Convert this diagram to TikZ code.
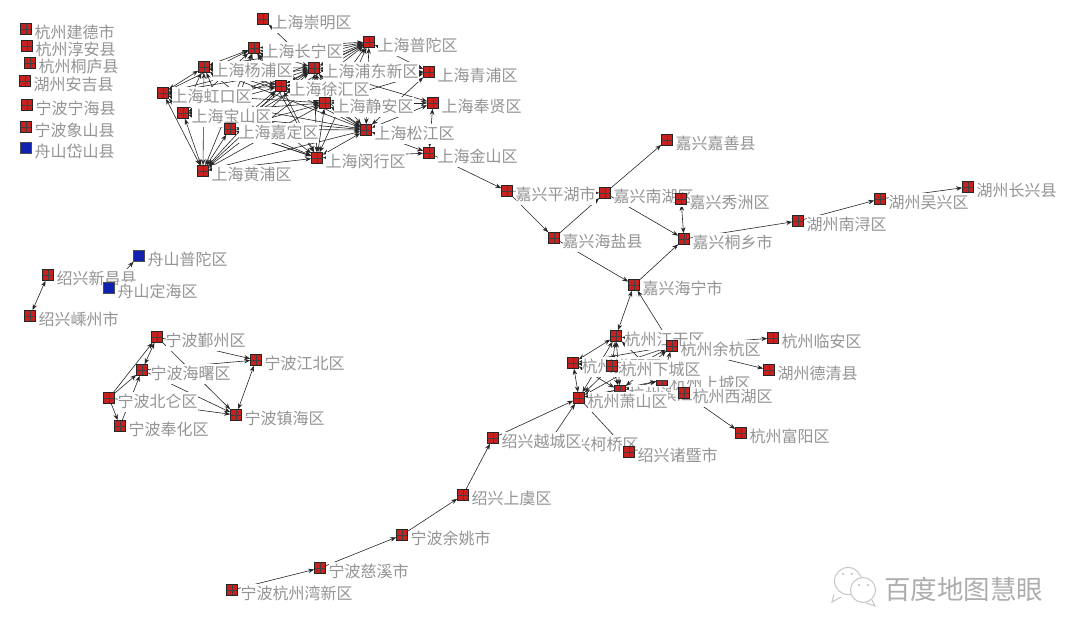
\documentclass[tikz,border=0pt]{standalone}
\usepackage{fontspec}
\setmainfont{Noto Sans CJK SC}
\usetikzlibrary{arrows.meta}
\pgfdeclarelayer{edgelayer}
\pgfsetlayers{edgelayer,main}
\definecolor{sqred}{HTML}{C8201E}
\definecolor{sqblue}{HTML}{1020B0}
\definecolor{labgray}{HTML}{949494}
\tikzset{
  redsq/.style={rectangle,draw=black!85,fill=sqred,line width=.6pt,minimum size=11pt,inner sep=0pt,
    path picture={\draw[black!75,line width=.7pt] (path picture bounding box.north)--(path picture bounding box.south)
      (path picture bounding box.west)--(path picture bounding box.east);}},
  bluesq/.style={rectangle,draw=black!70,fill=sqblue,line width=.5pt,minimum size=11pt,inner sep=0pt},
  lab/.style={anchor=west,fill=white,inner xsep=0pt,inner ysep=0pt,text=labgray,
    text height=15pt,text depth=5pt,font=\fontsize{16}{16}\selectfont},
  uni/.style={draw=black!85,line width=.6pt,-{Stealth[length=6pt,width=4.5pt]}},
  bi/.style={draw=black!85,line width=.6pt,{Stealth[length=6pt,width=4.5pt]}-{Stealth[length=6pt,width=4.5pt]}},
  wmtext/.style={text=black!32,font=\fontsize{26.5}{27}\selectfont,anchor=west,inner sep=0pt},
  bubble/.style={draw=black!22,fill=white,line width=1pt}
}
\newcommand{\nd}[5][redsq]{%
  \node[#1] (#2) at (#3,#4) {};
  \node[lab] (#2-l) at ([shift={(8.5,4)}]#2.center) {#5};
}
\begin{document}
\begin{tikzpicture}[x=1pt,y=-1pt]
\useasboundingbox (0,0) rectangle (1080,635);
% isolated
\nd{jiande}{26}{29}{杭州建德市}
\nd{chunan}{27}{46}{杭州淳安县}
\nd{tonglu}{30}{63}{杭州桐庐县}
\nd{anji}{25}{81}{湖州安吉县}
\nd{ninghai}{27}{105}{宁波宁海县}
\nd{xiangshan}{26}{127}{宁波象山县}
\nd[bluesq]{daishan}{26}{148}{舟山岱山县}
% Shanghai
\nd{chongming}{263}{19}{上海崇明区}
\nd{changning}{254}{48}{上海长宁区}
\nd{putuo}{369}{42}{上海普陀区}
\nd{yangpu}{204}{67}{上海杨浦区}
\nd{pudong}{314}{68}{上海浦东新区}
\nd{qingpu}{429}{72}{上海青浦区}
\nd{xuhui}{281}{86}{上海徐汇区}
\nd{hongkou}{163}{93}{上海虹口区}
\nd{jingan}{325}{103}{上海静安区}
\nd{fengxian}{433}{103}{上海奉贤区}
\nd{baoshan}{183}{113}{上海宝山区}
\nd{jiading}{230}{129}{上海嘉定区}
\nd{songjiang}{366}{130}{上海松江区}
\nd{jinshan}{429}{153}{上海金山区}
\nd{minhang}{317}{158}{上海闵行区}
\nd{huangpu}{203}{171}{上海黄浦区}
% Jiaxing / Huzhou
\nd{jiashan}{667}{140}{嘉兴嘉善县}
\nd{nanhu}{605}{193}{嘉兴南湖区}
\nd{pinghu}{507}{191}{嘉兴平湖市}
\nd{xiuzhou}{681}{199}{嘉兴秀洲区}
\nd{haiyan}{554}{238}{嘉兴海盐县}
\nd{tongxiang}{684}{239}{嘉兴桐乡市}
\nd{haining}{634}{285}{嘉兴海宁市}
\nd{nanxun}{798}{221}{湖州南浔区}
\nd{wuxing}{880}{199}{湖州吴兴区}
\nd{changxing}{968}{187}{湖州长兴县}
% Hangzhou
\nd{gongshu}{573}{363}{杭州拱墅区}
\nd{jianggan}{616}{336}{杭州江干区}
\nd{binjiang}{620}{391}{杭州滨江区}
\nd{shangcheng}{662}{380}{杭州上城区}
\nd{xiacheng}{612}{366}{杭州下城区}
\nd{yuhang}{672}{346}{杭州余杭区}
\nd{linan}{773}{338}{杭州临安区}
\nd{deqing}{769}{370}{湖州德清县}
\nd{xihu}{684}{393}{杭州西湖区}
\nd{keqiao}{550}{441}{绍兴柯桥区}
\nd{xiaoshan}{579}{398}{杭州萧山区}
\nd{fuyang}{741}{433}{杭州富阳区}
\nd{zhuji}{629}{452}{绍兴诸暨市}
\nd{yuecheng}{493}{438}{绍兴越城区}
\nd{shangyu}{463}{495}{绍兴上虞区}
\nd{yuyao}{402}{535}{宁波余姚市}
\nd{cixi}{320}{568}{宁波慈溪市}
\nd{hzwan}{232}{590}{宁波杭州湾新区}
% Shaoxing / Zhoushan
\nd{xinchang}{48}{275}{绍兴新昌县}
\nd{shengzhou}{30}{316}{绍兴嵊州市}
\nd[bluesq]{szputuo}{139}{256}{舟山普陀区}
\nd[bluesq]{dinghai}{109}{288}{舟山定海区}
% Ningbo
\nd{yinzhou}{157}{337}{宁波鄞州区}
\nd{jiangbei}{256}{360}{宁波江北区}
\nd{haishu}{142}{370}{宁波海曙区}
\nd{beilun}{109}{398}{宁波北仑区}
\nd{fenghua}{120}{426}{宁波奉化区}
\nd{zhenhai}{236}{415}{宁波镇海区}
% watermark
\draw[bubble] (834,594)--(832,602)--(841,597);
\node[bubble,circle,minimum size=27pt,inner sep=0pt] (bub1) at (848,581) {};
\draw[bubble] (872,600)--(875,606)--(866,603);
\node[bubble,circle,minimum size=25pt,inner sep=0pt] (bub2) at (863,590) {};
\fill[black!26] (843,574) circle (1.2) (852,574) circle (1.2) (859,585) circle (1.2) (868,585) circle (1.2);
\node[wmtext] (wm) at (884,589) {百度地图慧眼};
% connectors
\begin{pgfonlayer}{edgelayer}
\foreach \a [count=\i] in {changning,putuo,yangpu,pudong,xuhui,hongkou,jingan,baoshan,jiading,songjiang,minhang,huangpu}{
  \foreach \b [count=\j] in {changning,putuo,yangpu,pudong,xuhui,hongkou,jingan,baoshan,jiading,songjiang,minhang,huangpu}{
    \ifnum\j>\i \draw[bi] (\a)--(\b); \fi
  }
}
\foreach \a/\b in {chongming/pudong,qingpu/pudong,qingpu/putuo,qingpu/songjiang,qingpu/jingan,qingpu/xuhui,
  fengxian/songjiang,fengxian/jingan,fengxian/pudong,fengxian/jinshan,jinshan/songjiang,jinshan/minhang}{
  \draw[bi] (\a)--(\b);
}
\foreach \a/\b in {jinshan/pinghu,pinghu/haiyan,nanhu/jiashan,nanhu/tongxiang,haiyan/nanhu,haiyan/haining,
  haining/tongxiang,tongxiang/nanxun,nanxun/wuxing,wuxing/changxing,pinghu/nanhu,
  yuhang/linan,yuhang/deqing,xihu/fuyang,xiaoshan/zhuji,keqiao/xiaoshan,yuecheng/xiaoshan,
  shangyu/yuecheng,yuyao/shangyu,cixi/yuyao,hzwan/cixi,dinghai/szputuo,
  beilun/yinzhou,beilun/haishu,fenghua/haishu,beilun/fenghua,yinzhou/jiangbei,haishu/jiangbei,
  yinzhou/zhenhai,haishu/zhenhai,beilun/zhenhai}{
  \draw[uni] (\a)--(\b);
}
\foreach \a/\b in {xiuzhou/tongxiang,xinchang/shengzhou,yinzhou/haishu,jiangbei/zhenhai,haining/jianggan,haining/yuhang}{
  \draw[bi] (\a)--(\b);
}
\foreach \a [count=\i] in {gongshu,jianggan,binjiang,shangcheng,xiacheng,yuhang,xiaoshan}{
  \foreach \b [count=\j] in {gongshu,jianggan,binjiang,shangcheng,xiacheng,yuhang,xiaoshan}{
    \ifnum\j>\i \draw[bi] (\a)--(\b); \fi
  }
}
\end{pgfonlayer}
\end{tikzpicture}
\end{document}
